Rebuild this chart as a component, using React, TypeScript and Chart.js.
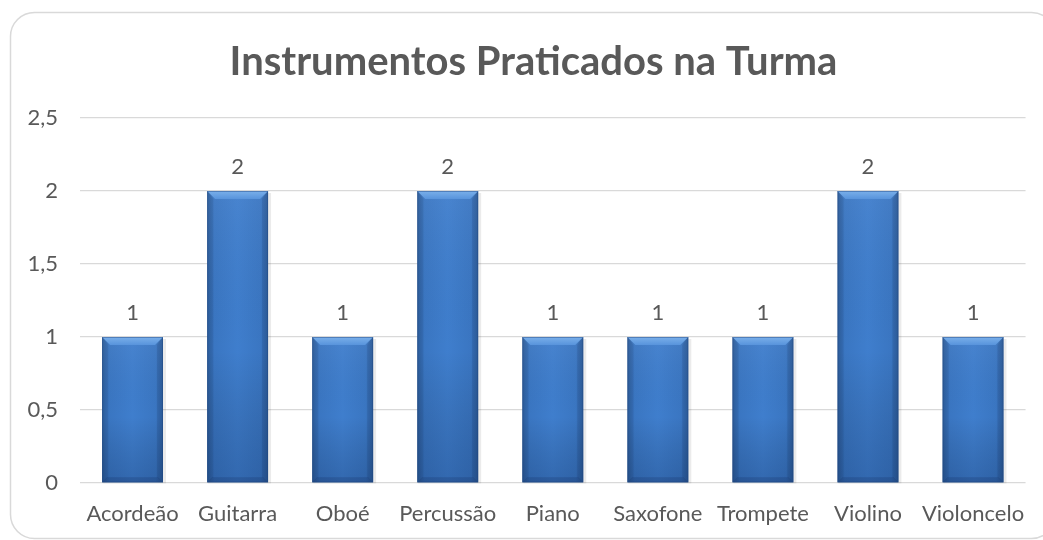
import React, { useEffect, useRef } from "react";
import { Chart, registerables } from "chart.js";

Chart.register(...registerables);

const categories = ["Acordeão", "Guitarra", "Oboé", "Percussão", "Piano", "Saxofone", "Trompete", "Violino", "Violoncelo"];
const values = [1, 2, 1, 2, 1, 1, 1, 2, 1];
const titleText = "Instrumentos Praticados na Turma";
const yMin = 0;
const yMax = 2.5;
const yStep = 0.5;

const FONT = "Lato, 'Open Sans', sans-serif";
const TEXT = "#595959";

const borderPlugin = {
  id: "roundedBorder",
  afterLayout(chart: any) {
    if (chart.titleBlock) {
      chart.titleBlock.left = 40;
    }
  },
  beforeDraw(chart: any) {
    const ctx = chart.ctx;
    ctx.save();
    ctx.fillStyle = "#ffffff";
    ctx.fillRect(0, 0, chart.width, chart.height);
    ctx.beginPath();
    ctx.roundRect(10.5, 12.5, 1045, 526, 24);
    ctx.strokeStyle = "#D9D9D9";
    ctx.lineWidth = 1.5;
    ctx.stroke();
    ctx.restore();
  },
};

const bevelPlugin = {
  id: "bevelBars",
  afterDatasetsDraw(chart: any) {
    const ctx = chart.ctx;
    const meta = chart.getDatasetMeta(0);
    ctx.save();
    meta.data.forEach((bar: any, i: number) => {
      const { x, y, base, width } = bar.getProps(["x", "y", "base", "width"], true);
      const l = x - width / 2;
      const r = x + width / 2;
      const t = y;
      const b = base;
      const h = b - t;
      // soft shadow
      ctx.fillStyle = "rgba(0,0,0,0.08)";
      ctx.fillRect(l + 1, t + 2, width + 2, h - 1);
      // main horizontal gradient
      const g = ctx.createLinearGradient(l, 0, r, 0);
      g.addColorStop(0, "#30619F");
      g.addColorStop(0.12, "#3A76C2");
      g.addColorStop(0.5, "#3F7ECD");
      g.addColorStop(0.88, "#3A76C2");
      g.addColorStop(1, "#30619F");
      ctx.fillStyle = g;
      ctx.fillRect(l, t, width, h);
      // vertical darkening toward bottom
      const gv = ctx.createLinearGradient(0, t, 0, b);
      gv.addColorStop(0, "rgba(255,255,255,0.05)");
      gv.addColorStop(0.55, "rgba(0,0,0,0.0)");
      gv.addColorStop(1, "rgba(0,20,60,0.20)");
      ctx.fillStyle = gv;
      ctx.fillRect(l, t, width, h);
      const bv = 8;
      // top bevel
      ctx.beginPath();
      ctx.moveTo(l, t);
      ctx.lineTo(r, t);
      ctx.lineTo(r - bv, t + bv);
      ctx.lineTo(l + bv, t + bv);
      ctx.closePath();
      const gt = ctx.createLinearGradient(0, t, 0, t + bv);
      gt.addColorStop(0, "#7AB0EA");
      gt.addColorStop(1, "#5894DC");
      ctx.fillStyle = gt;
      ctx.fill();
      // left bevel
      ctx.beginPath();
      ctx.moveTo(l, t);
      ctx.lineTo(l + bv - 2, t + bv);
      ctx.lineTo(l + bv - 2, b - 5);
      ctx.lineTo(l, b);
      ctx.closePath();
      ctx.fillStyle = "rgba(20,50,100,0.10)";
      ctx.fill();
      // right bevel
      ctx.beginPath();
      ctx.moveTo(r, t);
      ctx.lineTo(r - bv + 2, t + bv);
      ctx.lineTo(r - bv + 2, b - 5);
      ctx.lineTo(r, b);
      ctx.closePath();
      ctx.fillStyle = "rgba(20,50,100,0.14)";
      ctx.fill();
      // bottom bevel
      ctx.beginPath();
      ctx.moveTo(l, b);
      ctx.lineTo(r, b);
      ctx.lineTo(r - 5, b - 5);
      ctx.lineTo(l + 5, b - 5);
      ctx.closePath();
      ctx.fillStyle = "rgba(10,30,70,0.18)";
      ctx.fill();
      // outline
      ctx.strokeStyle = "rgba(30,70,130,0.45)";
      ctx.lineWidth = 1;
      ctx.strokeRect(l + 0.5, t + 0.5, width - 1, h - 1);
      // data label
      ctx.fillStyle = TEXT;
      ctx.font = `22px ${FONT}`;
      ctx.textAlign = "center";
      ctx.textBaseline = "middle";
      ctx.fillText(String(values[i]), x, t - 24);
    });
    ctx.restore();
  },
};

export default function App() {
  const ref = useRef<HTMLCanvasElement>(null);
  useEffect(() => {
    if (!ref.current) return;
    const chart = new Chart(ref.current, {
      type: "bar",
      data: {
        labels: categories,
        datasets: [
          {
            data: values,
            backgroundColor: "rgba(0,0,0,0)",
            borderWidth: 0,
            categoryPercentage: 1,
            barPercentage: 0.58,
          },
        ],
      },
      options: {
        responsive: false,
        animation: false,
        devicePixelRatio: 1,
        layout: { padding: { top: 0, right: 16, bottom: 0, left: 0 } },
        plugins: {
          legend: { display: false },
          tooltip: { enabled: false },
          title: {
            display: true,
            text: titleText,
            color: TEXT,
            font: { family: FONT, size: 40, weight: "bold" },
            padding: { top: 38, bottom: 32 },
          },
        },
        scales: {
          x: {
            afterFit: (s: any) => {
              s.height = 57;
            },
            grid: { display: false, drawTicks: false },
            border: { display: false },
            ticks: { color: TEXT, font: { family: FONT, size: 22 }, padding: 18, maxRotation: 0, autoSkip: false },
          },
          y: {
            min: yMin,
            max: yMax,
            afterFit: (s: any) => {
              s.width = 80;
            },
            grid: { color: "#D9D9D9", lineWidth: 1.3, drawTicks: false },
            border: { display: false },
            ticks: {
              stepSize: yStep,
              color: TEXT,
              font: { family: FONT, size: 22 },
              padding: 22,
              callback: (v: any) => String(v).replace(".", ","),
            },
          },
        },
      },
      plugins: [borderPlugin, bevelPlugin],
    });
    return () => chart.destroy();
  }, []);
  return (
    <div style={{ position: "fixed", left: 0, top: 0, width: 1043, height: 540, background: "#fff" }}>
      <canvas ref={ref} width={1043} height={540} />
    </div>
  );
}
